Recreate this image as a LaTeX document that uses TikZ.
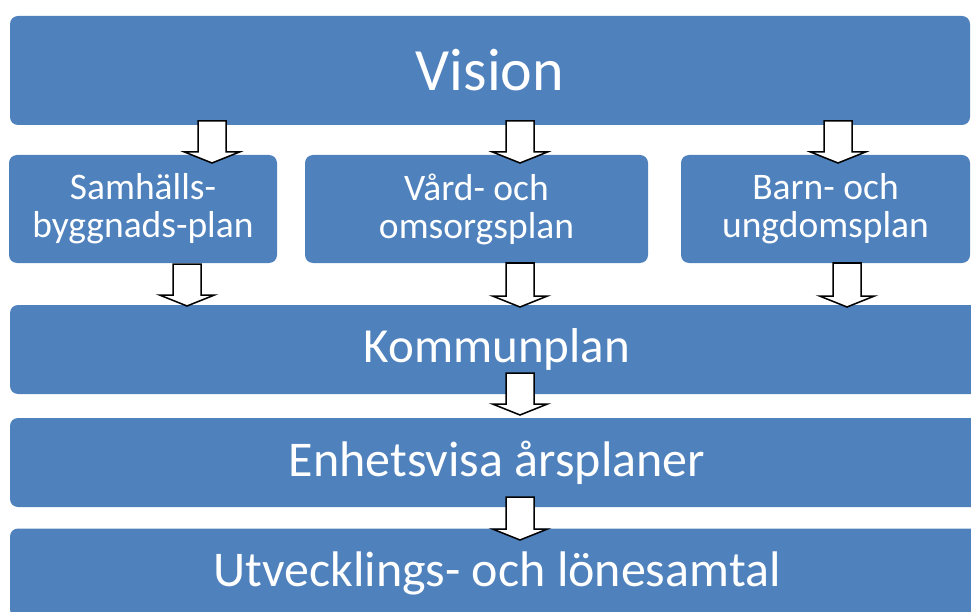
\documentclass[tikz,border=0pt]{standalone}
\usepackage{fontspec}
\setmainfont{Carlito}
\usepackage{tikz}
\definecolor{blaa}{HTML}{4F81BD}

\begin{document}
\begin{tikzpicture}[x=1pt, y=-1pt,
    ruta/.style={fill=blaa, rounded corners=8pt, text=white, align=center, inner sep=0pt},
    pil/.style={draw=black, fill=white, line width=1.5pt, line join=miter}]
    % Ram
    \useasboundingbox (0,0) rectangle (971,612);
    \clip (0,0) rectangle (971,612);
    % Vision
    \node[ruta, minimum width=960pt, minimum height=109pt,
          font=\fontsize{60}{62}\selectfont] (vision) at (490,70.5) {Vision};
    % Planer
    \node[ruta, minimum width=268pt, minimum height=108pt,
          font=\fontsize{37.5}{38}\selectfont] (samhall) at (143,209) {Samhälls-\\byggnads-plan};
    \node[ruta, minimum width=343pt, minimum height=108pt,
          font=\fontsize{37.5}{38}\selectfont] (vard) at (476.5,209) {Vård- och\\omsorgsplan};
    \node[ruta, minimum width=289pt, minimum height=108pt,
          font=\fontsize{37.5}{38}\selectfont] (barn) at (825.5,209) {Barn- och\\ungdomsplan};
    % Kommunplan och nedåt
    \node[ruta, minimum width=974pt, minimum height=89pt,
          font=\fontsize{49}{52}\selectfont] (kommun) at (497,349.5) {Kommunplan};
    \node[ruta, minimum width=974pt, minimum height=89pt,
          font=\fontsize{50}{52}\selectfont] (enhet) at (497,462.5) {Enhetsvisa årsplaner};
    \node[ruta, minimum width=974pt, minimum height=89pt,
          font=\fontsize{50}{52}\selectfont] (samtal) at (497,573) {Utvecklings- och lönesamtal};
    % Blockpilar
    \foreach \x/\t/\s in {212/121/163, 520/121/163, 838/121/163,
                         187/264/306, 520/263/307, 847/263/307,
                         520/373/415, 520/497/540}
        \draw[pil] (\x-14,\t) -- (\x+14,\t) -- (\x+14,\s-11) -- (\x+27.5,\s-11)
            -- (\x,\s) -- (\x-27.5,\s-11) -- (\x-14,\s-11) -- cycle;
\end{tikzpicture}
\end{document}
